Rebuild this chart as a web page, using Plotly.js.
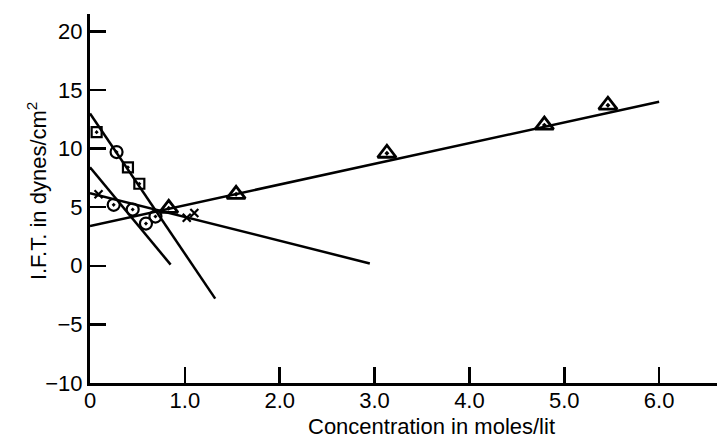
<!DOCTYPE html>
<html>
<head>
<meta charset="utf-8">
<script src="https://cdn.plot.ly/plotly-3.0.1.min.js"></script>
<style>html,body{margin:0;padding:0;background:#fff;}#chart{width:717px;height:441px;}</style>
</head>
<body>
<div id="chart"></div>
<script>
// Fitted lines (end points)
const triLineX = [0, 6.0];
const triLineY = [3.4, 14.0];
const sqLineX = [0, 1.32];
const sqLineY = [13.0, -2.8];
const circLineX = [0, 0.85];
const circLineY = [8.4, 0.1];
const crossLineX = [0, 2.95];
const crossLineY = [6.2, 0.2];

// Data points
const triX = [0.83, 1.54, 3.13, 4.79, 5.46];
const triY = [4.9, 6.1, 9.6, 12.0, 13.7];
const sqX = [0.07, 0.40, 0.52];
const sqY = [11.4, 8.4, 7.0];
const circX = [0.28, 0.25, 0.45, 0.59, 0.69];
const circY = [9.7, 5.2, 4.8, 3.6, 4.2];
const crossX = [0.09, 1.02, 1.10];
const crossY = [6.1, 4.1, 4.5];

// Tick labels and titles
const xTickVals = [0, 1, 2, 3, 4, 5, 6];
const xTickText = ["0", "1.0", "2.0", "3.0", "4.0", "5.0", "6.0"];
const yTickVals = [-10, -5, 0, 5, 10, 15, 20];
const yTickText = ["\u221210", "\u22125", "0", "5", "10", "15", "20"];
const xTitle = "Concentration in moles/lit";
const yTitle = "I.F.T. in dynes/cm<sup>2</sup>";

const lineStyle = {color: "#000", width: 2.5};
function lineTrace(x, y) {
  return {x: x, y: y, mode: "lines", line: lineStyle, hoverinfo: "skip", showlegend: false};
}
function markTrace(x, y, symbol, size, lw) {
  return {x: x, y: y, mode: "markers", showlegend: false,
    marker: {symbol: symbol, size: size, color: "#000", line: {color: "#000", width: lw}}};
}

const traces = [
  lineTrace(triLineX, triLineY),
  lineTrace(sqLineX, sqLineY),
  lineTrace(circLineX, circLineY),
  lineTrace(crossLineX, crossLineY),
  markTrace(triX, triY, "triangle-up-open-dot", 16, 2.8),
  markTrace(sqX, sqY, "square-open-dot", 10, 2.2),
  markTrace(circX, circY, "circle-open-dot", 12, 2.2),
  markTrace(crossX, crossY, "x-thin", 8, 2.2)
];

const tickFont = {family: "Liberation Sans, Arial, sans-serif", size: 22, color: "#000"};
const titleFont = {family: "Liberation Sans, Arial, sans-serif", size: 22, color: "#000"};

const layout = {
  width: 717, height: 441,
  margin: {l: 90, r: 0, t: 14, b: 58},
  paper_bgcolor: "#fff", plot_bgcolor: "#fff",
  font: tickFont,
  xaxis: {
    range: [0, 6.61], showgrid: false, zeroline: false,
    showline: true, linecolor: "#000", linewidth: 3,
    ticks: "inside", ticklen: 16, tickwidth: 2.5, tickcolor: "#000",
    tickvals: xTickVals, ticktext: xTickText, ticklabelstandoff: -4,
    tickfont: tickFont, automargin: false
  },
  yaxis: {
    range: [-10, 21.48], showgrid: false, zeroline: false,
    showline: true, linecolor: "#000", linewidth: 3,
    ticks: "inside", ticklen: 16, tickwidth: 2.5, tickcolor: "#000",
    tickvals: yTickVals, ticktext: yTickText,
    tickfont: tickFont, automargin: false
  },
  annotations: [
    {
      text: yTitle, textangle: -90, font: titleFont, showarrow: false,
      xref: "paper", yref: "paper", x: 0, y: 0.52,
      xanchor: "center", yanchor: "middle", xshift: -53
    },
    {
      text: xTitle, font: titleFont, showarrow: false,
      xref: "paper", yref: "paper", x: 0.544, y: 0,
      xanchor: "center", yanchor: "middle", yshift: -43
    }
  ]
};

Plotly.newPlot("chart", traces, layout, {displayModeBar: false, staticPlot: true});
</script>
</body>
</html>
